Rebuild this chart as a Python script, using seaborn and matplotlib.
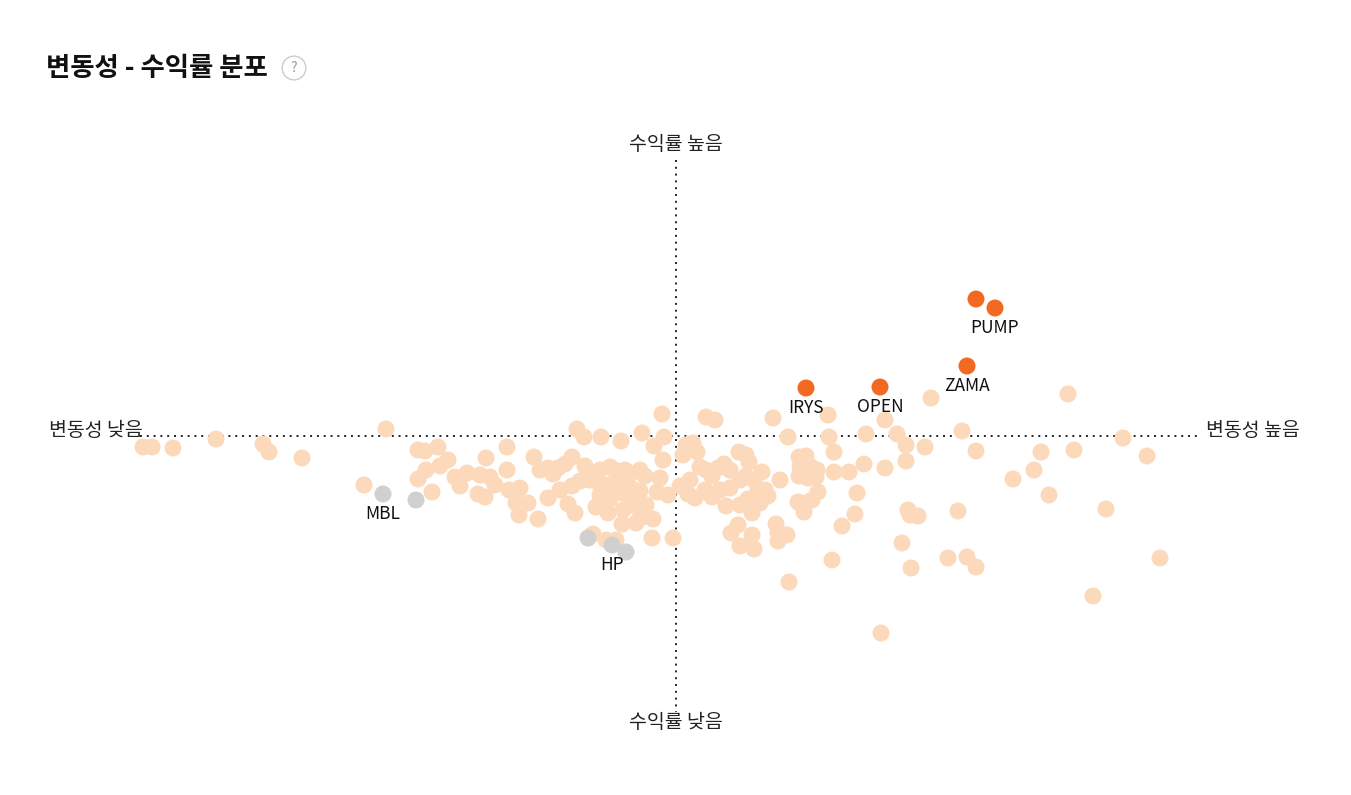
import pandas as pd
import seaborn as sns
import matplotlib.pyplot as plt

sns.set_theme(style="white")
plt.rcParams['font.family'] = ['Noto Sans CJK KR', 'DejaVu Sans']

# (volatility, return) for every token, centred on the market average
base_points = [
    (-53.3, -1.1), (-52.4, -1.1), (-50.3, -1.2), (-46.0, -0.3), (-41.3, -0.8), (-40.7, -1.6),
    (-37.4, -2.2), (-29.0, 0.7), (-31.2, -4.9), (-25.8, -1.4), (-25.1, -1.5), (-23.8, -1.1),
    (-25.8, -4.3), (-24.4, -5.6), (-25.0, -3.4), (-23.6, -3.0), (-22.8, -2.4), (-20.9, -3.7),
    (-19.0, -2.2), (-16.9, -1.1), (-22.1, -4.1), (-21.6, -5.0), (-19.6, -3.9), (-18.6, -4.1),
    (-19.8, -5.8), (-19.1, -6.1), (-16.9, -3.4), (-18.1, -4.9), (-16.7, -5.4), (-15.6, -5.2),
    (-14.2, -2.1), (-16.0, -6.7), (-14.8, -6.7), (-15.7, -7.9), (-13.8, -8.3), (-13.6, -3.4),
    (-12.8, -3.2), (-12.3, -3.8), (-11.8, -3.2), (-11.1, -2.8), (-10.4, -2.1), (-9.9, 0.7),
    (-9.2, -0.1), (-7.5, -0.1), (-5.5, -0.5), (-3.4, 0.3), (-1.4, 2.2), (-1.2, -0.1),
    (-2.2, -1.0), (-9.1, -3.0), (-7.6, -3.4), (-6.6, -3.1), (-5.9, -3.5), (-5.1, -3.4),
    (-4.6, -3.8), (-3.6, -3.4), (-3.1, -4.0), (-7.8, -4.6), (-6.5, -4.8), (-5.6, -5.0),
    (-4.5, -5.2), (-3.6, -5.5), (-12.8, -6.2), (-11.6, -5.4), (-10.4, -5.0), (-9.6, -4.5),
    (-8.6, -4.4), (-7.6, -5.9), (-6.6, -6.3), (-5.4, -5.7), (-4.2, -6.1), (-3.0, -6.9),
    (-10.8, -6.8), (-10.1, -7.7), (-8.0, -7.1), (-6.8, -7.7), (-5.3, -7.4), (-4.5, -6.9),
    (-3.6, -8.2), (-5.4, -8.8), (-4.0, -8.7), (-2.3, -8.3), (-8.3, -9.8), (-7.0, -10.4),
    (-6.0, -10.4), (-2.4, -10.2), (-0.3, -10.2), (-1.6, -4.2), (-1.3, -2.4), (-1.9, -5.6),
    (-0.8, -5.9), (0.4, -5.0), (1.4, -4.4), (0.7, -1.9), (1.0, -0.9), (1.7, -0.7),
    (2.1, -1.6), (2.4, -3.1), (3.0, -3.4), (3.6, -4.0), (4.2, -3.2), (4.8, -2.8),
    (5.4, -3.4), (1.2, -5.8), (1.9, -6.2), (2.9, -5.4), (3.6, -6.1), (4.4, -5.4),
    (5.4, -5.2), (6.3, -1.6), (7.0, -1.9), (7.3, -2.6), (7.0, -4.0), (6.4, -4.4),
    (7.8, -4.4), (8.6, -3.6), (8.2, -5.4), (8.9, -5.4), (9.2, -6.0), (8.4, -6.7),
    (7.2, -6.3), (5.0, -7.0), (6.4, -6.9), (7.6, -7.7), (6.2, -8.9), (5.5, -9.7),
    (7.6, -9.9), (6.4, -11.0), (7.8, -11.3), (10.0, -8.8), (10.2, -9.6), (11.1, -9.9),
    (10.2, -10.5), (11.3, -14.6), (10.4, -4.4), (11.2, -0.1), (3.0, 1.9), (3.9, 1.6),
    (9.7, 1.8), (12.3, -2.1), (13.0, -2.0), (12.4, -3.1), (13.0, -3.4), (13.4, -3.0),
    (14.1, -3.4), (12.3, -4.0), (13.2, -4.2), (14.0, -4.1), (12.2, -6.6), (13.0, -6.7),
    (13.6, -6.4), (12.8, -7.6), (14.2, -5.6), (15.3, -0.1), (15.2, 2.1), (15.8, -1.6),
    (15.8, -3.6), (17.3, -3.6), (18.1, -5.7), (17.9, -7.8), (16.6, -9.0), (18.8, -2.8),
    (19.0, 0.2), (20.9, 1.6), (20.9, -3.2), (22.1, 0.2), (23.0, -0.9), (23.0, -2.5),
    (24.9, -1.1), (25.5, 3.8), (28.6, 0.5), (30.0, -1.5), (23.2, -7.4), (23.4, -7.9),
    (24.2, -8.0), (28.2, -7.5), (22.6, -10.7), (23.5, -13.2), (27.2, -12.2), (29.1, -12.1),
    (30.0, -13.1), (15.6, -12.4), (20.5, -19.7), (33.7, -4.3), (35.8, -3.4), (36.5, -1.6),
    (37.3, -5.9), (39.2, 4.2), (39.8, -1.4), (41.7, -16.0), (43.0, -7.3), (44.7, -0.2),
    (47.1, -2.0), (48.4, -12.2),
]

gray_names = ["MBL", "", "", "HP", ""]
gray_vol = [-29.3, -26.0, -8.8, -6.4, -5.0]
gray_ret = [-5.8, -6.4, -10.2, -10.9, -11.6]

hot_names = ["", "PUMP", "ZAMA", "IRYS", "OPEN"]
hot_vol = [30.0, 31.9, 29.1, 13.0, 20.4]
hot_ret = [13.7, 12.8, 7.0, 4.8, 4.9]

base = pd.DataFrame(base_points, columns=["vol", "ret"])
base["grp"] = "base"
df = pd.concat([
    base,
    pd.DataFrame({"vol": gray_vol, "ret": gray_ret, "grp": "low"}),
    pd.DataFrame({"vol": hot_vol, "ret": hot_ret, "grp": "hot"}),
], ignore_index=True)

fig = plt.figure(figsize=(13.51, 7.95), dpi=100)
ax = fig.add_axes([0, 0, 1, 1])
ax.set_xlim(-67.6, 67.5)
ax.set_ylim(-35.9, 43.6)
ax.axis("off")

ax.plot([-53.6, 52.4], [0, 0], ls=(0, (1, 2.5)), color="#222222", lw=1.4, zorder=1)
ax.plot([0, 0], [27.6, -27.6], ls=(0, (1, 2.5)), color="#222222", lw=1.4, zorder=1)

sns.scatterplot(data=df, x="vol", y="ret", hue="grp",
                palette={"base": "#FBD9BA", "low": "#D0D0D0", "hot": "#F26A21"},
                s=150, edgecolor="none", legend=False, ax=ax, zorder=2)

for names, xs, ys in [(gray_names, gray_vol, gray_ret), (hot_names, hot_vol, hot_ret)]:
    for n, x, y in zip(names, xs, ys):
        if n:
            ax.text(x, y - 2.0, n, ha="center", va="center", fontsize=12.5,
                    fontweight="medium", color="#111111")

lab = dict(fontsize=14, color="#222222", va="center", fontweight="medium")
ax.text(0, 29.1, "수익률 높음", ha="center", **lab)
ax.text(0, -28.6, "수익률 낮음", ha="center", **lab)
ax.text(-53.3, 0.5, "변동성 낮음", ha="right", **lab)
ax.text(53.0, 0.5, "변동성 높음", ha="left", **lab)

fig.text(46 / 1351, 1 - 68 / 795, "변동성 - 수익률 분포", fontsize=19, fontweight="bold",
         va="center", ha="left", color="#111111")
fig.text(294 / 1351, 1 - 68 / 795, "?", fontsize=10, color="#999999", ha="center", va="center",
         bbox=dict(boxstyle="circle,pad=0.35", fc="white", ec="#CCCCCC", lw=1))

fig.savefig("out.png", dpi=100)
